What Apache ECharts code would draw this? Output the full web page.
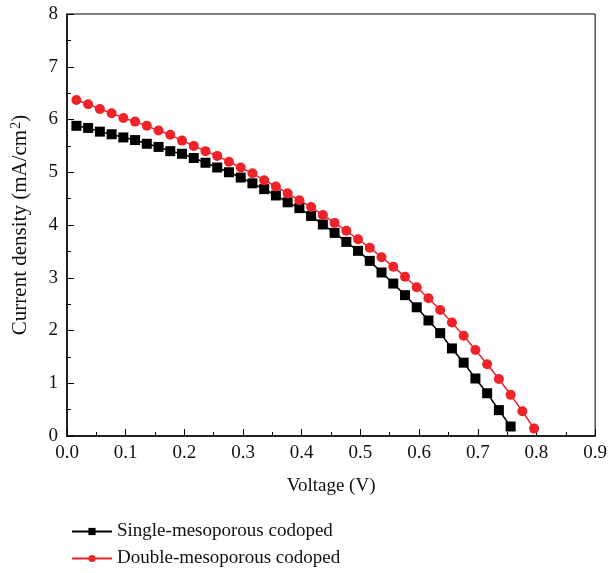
<!DOCTYPE html>
<html>
<head>
<meta charset="utf-8">
<script src="https://cdn.jsdelivr.net/npm/echarts@6/dist/echarts.min.js"></script>
<style>html,body{margin:0;padding:0;background:#fff}#c{width:610px;height:573px}</style>
</head>
<body>
<div id="c"></div>
<script>
const voltageSingle = [0.016,0.036,0.056,0.076,0.096,0.116,0.136,0.156,0.176,0.196,
  0.216,0.236,0.256,0.276,0.296,0.316,0.336,0.356,0.376,0.396,
  0.416,0.436,0.456,0.476,0.496,0.516,0.536,0.556,0.576,0.596,
  0.616,0.636,0.656,0.676,0.696,0.716,0.736,0.756];
const currentSingle = [5.88,5.84,5.77,5.72,5.66,5.61,5.54,5.48,5.40,5.35,
  5.27,5.18,5.09,5.00,4.90,4.79,4.68,4.56,4.43,4.32,
  4.17,4.01,3.85,3.68,3.51,3.32,3.10,2.89,2.67,2.44,
  2.19,1.95,1.66,1.39,1.09,0.81,0.49,0.18];
const voltageDouble = [0.016,0.036,0.056,0.076,0.096,0.116,0.136,0.156,0.176,0.196,
  0.216,0.236,0.256,0.276,0.296,0.316,0.336,0.356,0.376,0.396,
  0.416,0.436,0.456,0.476,0.496,0.516,0.536,0.556,0.576,0.596,
  0.616,0.636,0.656,0.676,0.696,0.716,0.736,0.756,0.776,0.796];
const currentDouble = [6.37,6.29,6.20,6.12,6.03,5.96,5.88,5.79,5.71,5.60,
  5.50,5.40,5.31,5.20,5.09,4.98,4.85,4.73,4.60,4.47,
  4.34,4.19,4.04,3.89,3.73,3.57,3.39,3.21,3.02,2.82,
  2.61,2.39,2.15,1.90,1.63,1.36,1.08,0.78,0.47,0.14];
const seriesNames = ['Single-mesoporous codoped','Double-mesoporous codoped'];
const xTitle = 'Voltage (V)';
const yTitle = 'Current density (mA/cm{sup|2})';

const pairs = (xs, ys) => xs.map((x, i) => [x, ys[i]]);
const font = '"Liberation Serif", "DejaVu Serif", serif';
const chart = echarts.init(document.getElementById('c'), null, {renderer: 'canvas'});
chart.setOption({
  animation: false,
  backgroundColor: '#fff',
  textStyle: {fontFamily: font},
  grid: {left: 67, right: 14, top: 14, bottom: 137, show: true, borderColor: '#000', borderWidth: 1},
  legend: {
    orient: 'vertical', left: 66, top: 517, height: 60, itemWidth: 40, itemHeight: 9, itemGap: 8,
    textStyle: {fontFamily: font, fontSize: 19, lineHeight: 18, color: '#111'},
    data: seriesNames
  },
  xAxis: {
    type: 'value', min: 0, max: 0.9, interval: 0.1,
    name: xTitle, nameLocation: 'middle', nameGap: 41,
    nameTextStyle: {fontFamily: font, fontSize: 19, color: '#111'},
    axisLine: {show: true, lineStyle: {color: '#000', width: 1.5}},
    axisTick: {show: true, inside: true, length: 7, lineStyle: {color: '#000'}},
    minorTick: {show: true, splitNumber: 2, length: 4, lineStyle: {color: '#000'}},
    axisLabel: {fontFamily: font, fontSize: 19, color: '#111', margin: 8, formatter: v => v.toFixed(1)},
    splitLine: {show: false}
  },
  yAxis: {
    type: 'value', min: 0, max: 8, interval: 1,
    name: yTitle, nameLocation: 'middle', nameGap: 36, nameRotate: 90,
    nameTextStyle: {fontFamily: font, fontSize: 21, color: '#111',
      rich: {sup: {fontFamily: font, fontSize: 14, color: '#111', verticalAlign: 'top', padding: [0, 0, 8, 1]}}},
    axisLine: {show: true, lineStyle: {color: '#000', width: 1.5}},
    axisTick: {show: true, inside: true, length: 7, lineStyle: {color: '#000'}},
    minorTick: {show: true, splitNumber: 2, length: 4, lineStyle: {color: '#000'}},
    axisLabel: {fontFamily: font, fontSize: 19, color: '#111', margin: 9},
    splitLine: {show: false}
  },
  series: [
    {
      name: seriesNames[0], type: 'line', data: pairs(voltageSingle, currentSingle),
      symbol: 'rect', symbolSize: 10, showAllSymbol: true,
      itemStyle: {color: '#000'}, lineStyle: {color: '#000', width: 1.5}
    },
    {
      name: seriesNames[1], type: 'line', data: pairs(voltageDouble, currentDouble),
      symbol: 'circle', symbolSize: 10, showAllSymbol: true,
      itemStyle: {color: '#ee2229'}, lineStyle: {color: '#ee2229', width: 1.5}
    }
  ]
});
</script>
</body>
</html>
